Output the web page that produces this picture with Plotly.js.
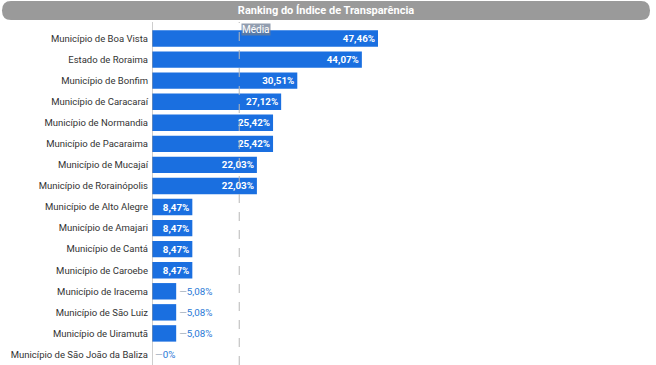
<!DOCTYPE html>
<html>
<head>
<meta charset="utf-8">
<script src="https://cdn.plot.ly/plotly-3.0.1.min.js"></script>
<style>html,body{margin:0;padding:0;background:#fff;}#chart{width:656px;height:365px;}</style>
</head>
<body>
<div id="chart"></div>
<script>
const categories = [
  "Município de Boa Vista",
  "Estado de Roraima",
  "Município de Bonfim",
  "Município de Caracaraí",
  "Município de Normandia",
  "Município de Pacaraima",
  "Município de Mucajaí",
  "Município de Rorainópolis",
  "Município de Alto Alegre",
  "Município de Amajari",
  "Município de Cantá",
  "Município de Caroebe",
  "Município de Iracema",
  "Município de São Luiz",
  "Município de Uiramutã",
  "Município de São João da Baliza"
];
const values = [47.46, 44.07, 30.51, 27.12, 25.42, 25.42, 22.03, 22.03, 8.47, 8.47, 8.47, 8.47, 5.08, 5.08, 5.08, 0];
const mediaValue = 18.32;
const titleText = "Ranking do Índice de Transparência";
const mediaLabel = "Média";

function fmt(v){ return v === 0 ? "0%" : v.toFixed(2).replace(".", ",") + "%"; }
const inside = values.map(v => v >= 8);
const texts = values.map((v,i) => inside[i] ? "<b>" + fmt(v) + "</b>" : "<span style='color:#9aa7b8'>—</span>" + fmt(v));
const positions = values.map((v,i) => inside[i] ? "inside" : "outside");
const textColors = values.map((v,i) => inside[i] ? "#ffffff" : "#2a78d6");

const blue = "#1a6fe0";

const trace = {
  type: "bar",
  orientation: "h",
  x: values,
  y: categories,
  marker: {color: blue},
  text: texts,
  textposition: positions,
  insidetextanchor: "end",
  textfont: {family: "Roboto, Arial, sans-serif", size: 9.8, color: textColors},
  cliponaxis: false,
  constraintext: "none",
  hoverinfo: "skip"
};

const L = 152, R = 6, T = 28, B = 0, W = 656, H = 365;
const pw = W - L - R, ph = H - T - B;
const px = p => (p - L) / pw;
const py = p => (H - B - p) / ph;

const x0 = px(2), x1 = px(650), yTop = py(1), yBot = py(20);
const rx = 9 / pw, ry = 9.5 / ph;
const path = `M ${x0+rx},${yTop} L ${x1-rx},${yTop} Q ${x1},${yTop} ${x1},${yTop-ry} Q ${x1},${yBot} ${x1-rx},${yBot} L ${x0+rx},${yBot} Q ${x0},${yBot} ${x0},${yBot+ry} Q ${x0},${yTop} ${x0+rx},${yTop} Z`;

const layout = {
  width: W, height: H,
  margin: {l: L, r: R, t: T, b: B, pad: 0},
  paper_bgcolor: "#ffffff",
  plot_bgcolor: "#ffffff",
  bargap: 0.22,
  showlegend: false,
  font: {family: "Roboto, Arial, sans-serif"},
  title: {
    text: "<b>" + titleText + "</b>",
    font: {family: "Roboto, Arial, sans-serif", size: 11, color: "#ffffff"},
    x: 0.497, xref: "container", xanchor: "center",
    y: 1 - 10.5 / H, yref: "container", yanchor: "middle"
  },
  xaxis: {
    range: [0, pw / 4.762],
    showgrid: false, zeroline: false, showticklabels: false, showline: false, ticks: "",
    fixedrange: true
  },
  yaxis: {
    autorange: "reversed",
    showgrid: false, zeroline: false, showline: false, ticks: "",
    tickfont: {family: "Roboto, Arial, sans-serif", size: 9.5, color: "#333333"},
    ticklabelstandoff: 3,
    fixedrange: true
  },
  shapes: [
    {type: "path", xref: "paper", yref: "paper", path: path, fillcolor: "#9a9a9a", line: {width: 0}, layer: "below"},
    {type: "line", xref: "x", yref: "paper", x0: 0, x1: 0, y0: 0, y1: py(22), line: {color: "#9e9e9e", width: 1}},
    {type: "line", xref: "x", yref: "paper", x0: mediaValue, x1: mediaValue, y0: 0, y1: py(22), line: {color: "#b8b8b8", width: 1, dash: "dash"}, layer: "above"}
  ],
  annotations: [
    {xref: "x", yref: "paper", x: mediaValue, y: py(23), xanchor: "left", yanchor: "top", xshift: 2,
     text: mediaLabel, showarrow: false,
     font: {family: "Roboto, Arial, sans-serif", size: 10, color: "#ffffff"},
     bgcolor: "rgba(110,125,150,0.75)", borderpad: 0}
  ]
};

Plotly.newPlot("chart", [trace], layout, {displayModeBar: false, staticPlot: true});
</script>
</body>
</html>
